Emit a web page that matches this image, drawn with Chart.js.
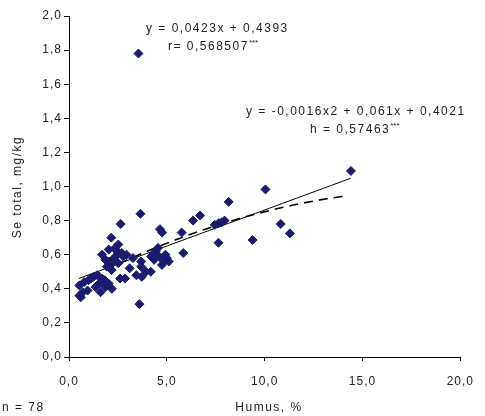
<!DOCTYPE html>
<html>
<head>
<meta charset="utf-8">
<script src="https://cdn.jsdelivr.net/npm/chart.js@4.4.1/dist/chart.umd.min.js"></script>
<style>
  body { margin: 0; background: #fff; }
  canvas { display: block; }
</style>
</head>
<body>
<canvas id="myChart" width="485" height="416"></canvas>
<script>
// data

const humus = [0.53, 0.53, 0.60, 0.70, 0.78, 0.95, 1.11, 1.25, 1.36, 1.44,
    1.53, 1.61, 1.69, 1.69, 1.83, 1.86, 1.86, 1.94, 2.03, 2.03,
    2.11, 2.16, 2.18, 2.19, 2.22, 2.30, 2.36, 2.39, 2.52, 2.52,
    2.61, 2.64, 2.69, 2.77, 2.86, 2.94, 3.10, 3.27, 3.44, 3.55,
    3.60, 3.65, 3.69, 3.69, 3.72, 3.93, 4.18, 4.20, 4.35, 4.43,
    4.50, 4.60, 4.65, 4.76, 4.85, 4.93, 5.00, 5.10, 4.75, 5.76,
    5.84, 6.34, 6.70, 7.45, 7.65, 7.64, 7.80, 7.95, 8.16, 9.38,
    10.04, 10.82, 11.29, 14.41, 1.00, 2.05, 4.55, 2.45]
const seTotal = [0.42, 0.36, 0.35, 0.38, 0.44, 0.39, 0.46, 0.47, 0.41, 0.48,
    0.43, 0.38, 0.46, 0.60, 0.45, 0.41, 0.57, 0.53, 0.43, 0.63,
    0.55, 0.70, 0.51, 0.40, 0.55, 0.58, 0.64, 0.59, 0.66, 0.55,
    0.46, 0.78, 0.61, 0.59, 0.46, 0.60, 0.52, 0.58, 0.48, 1.78,
    0.31, 0.84, 0.56, 0.53, 0.47, 0.50, 0.50, 0.59, 0.57, 0.62,
    0.60, 0.59, 0.75, 0.73, 0.56, 0.60, 0.58, 0.56, 0.54, 0.73,
    0.61, 0.80, 0.83, 0.775, 0.785, 0.67, 0.79, 0.80, 0.91, 0.686,
    0.983, 0.78, 0.725, 1.091, 0.45, 0.56, 0.64, 0.62]

// trend lines as printed on the chart: [a0, a1, a2] and x range
const linCoef = [0.4393, 0.0423, 0]
const linRange = [0.5, 14.4]
const polyCoef = [0.4021, 0.061, -0.0016]
const polyRange = [0.5, 14.2]

const xTickLabels = ['0,0', '5,0', '10,0', '15,0', '20,0']
const yTickLabels = ['0,0', '0,2', '0,4', '0,6', '0,8', '1,0', '1,2', '1,4', '1,6', '1,8', '2,0']

const fontName = '"Liberation Sans", Arial, sans-serif'

function trend(coef, range) {
    let pts = []
    for (let i = 0; i <= 40; i++) {
        let x = range[0] + (range[1] - range[0]) * i / 40
        pts.push({ x: x, y: coef[0] + coef[1] * x + coef[2] * x * x })
    }
    return pts
}

// texts drawn on top (equations, titles)

function drawSup(ctx, text, sup, x, y) {
    ctx.fillText(text, x, y)
    let w = ctx.measureText(text).width
    ctx.save()
    ctx.font = '8px ' + fontName
    ctx.letterSpacing = '0px'
    ctx.fillText(sup, x + w, y - 4)
    ctx.restore()
}

const textPlugin = {
    id: 'texts',
    beforeDraw(chart) {
        chart.ctx.letterSpacing = '1px'
    },
    afterDraw(chart) {
        const ctx = chart.ctx
        ctx.save()
        ctx.letterSpacing = '1.5px'
        ctx.fillStyle = '#222'
        ctx.font = '12px ' + fontName
        ctx.textBaseline = 'middle'
        ctx.textAlign = 'left'
        ctx.fillText('y = 0,0423x + 0,4393', 146, 29)
        drawSup(ctx, 'r= 0,568507', '***', 168, 47)
        ctx.fillText('y = -0,0016x2 + 0,061x + 0,4021', 246, 112)
        drawSup(ctx, 'h = 0,57463', '***', 310, 130)
        ctx.fillText('n = 78', 2, 408)
        ctx.textAlign = 'center'
        ctx.fillText('Humus, %', 269, 408)
        ctx.translate(18, 187)
        ctx.rotate(-Math.PI / 2)
        ctx.fillText('Se total, mg/kg', 0, 0)
        ctx.restore()
    }
}

const points = humus.map((h, i) => ({ x: h, y: seTotal[i] }))

const ctx = document.getElementById('myChart').getContext('2d');
const myChart = new Chart(ctx, {
    type: 'scatter',
    data: {
        datasets: [{
            data: points,
            pointStyle: 'rectRot',
            pointRadius: 4.5,
            backgroundColor: '#1b1b6e',
            borderColor: '#1b1b6e',
            borderWidth: 1
        }, {
            data: trend(linCoef, linRange),
            showLine: true,
            pointRadius: 0,
            borderColor: '#000',
            borderWidth: 1
        }, {
            data: trend(polyCoef, polyRange),
            showLine: true,
            pointRadius: 0,
            borderColor: '#000',
            borderWidth: 1.6,
            borderDash: [9, 6]
        }]
    },
    options: {
        responsive: false,
        animation: false,
        layout: { padding: { left: 0, top: 16, right: 14, bottom: 0 } },
        plugins: {
            legend: { display: false },
            tooltip: { enabled: false }
        },
        scales: {
            x: {
                type: 'linear',
                min: 0,
                max: 20,
                afterFit(scale) { scale.height = 59 },
                ticks: {
                    stepSize: 5,
                    padding: 13,
                    color: '#222',
                    font: { family: fontName, size: 12 },
                    callback: (v, i) => xTickLabels[i]
                },
                grid: { drawOnChartArea: false, color: '#000', tickLength: 4 },
                border: { color: '#000', width: 1 }
            },
            y: {
                min: 0,
                max: 2,
                afterFit(scale) { scale.width = 69 },
                ticks: {
                    stepSize: 0.2,
                    padding: 2,
                    color: '#222',
                    font: { family: fontName, size: 12 },
                    callback: (v, i) => yTickLabels[i]
                },
                grid: { drawOnChartArea: false, color: '#000', tickLength: 5 },
                border: { color: '#000', width: 1 }
            }
        }
    },
    plugins: [textPlugin]
});
</script>
</body>
</html>
